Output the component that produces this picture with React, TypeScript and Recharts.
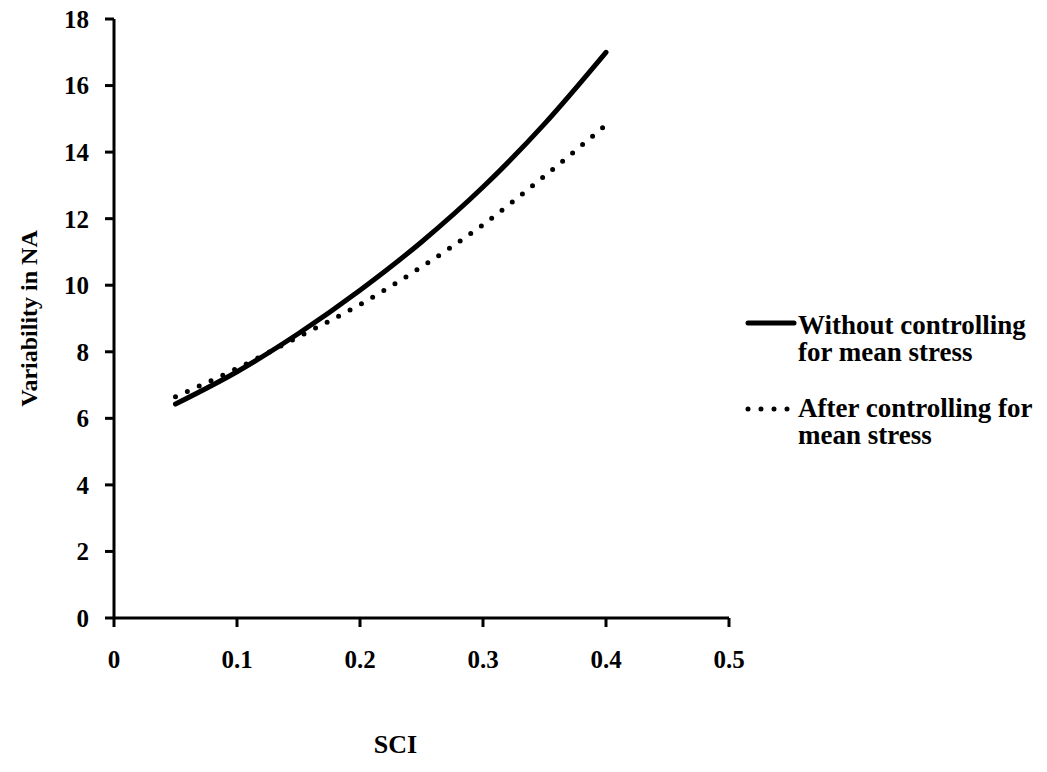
import { LineChart, Line, XAxis, YAxis, Legend, Label } from "recharts"

const sci = [0.05, 0.1, 0.15, 0.2, 0.25, 0.3, 0.35, 0.4]
const withoutControl = [6.43, 7.4, 8.55, 9.85, 11.3, 12.95, 14.85, 17.0]
const afterControl = [6.65, 7.5, 8.45, 9.42, 10.55, 11.82, 13.28, 14.82]
const xTicks = [0, 0.1, 0.2, 0.3, 0.4, 0.5]
const yTicks = [0, 2, 4, 6, 8, 10, 12, 14, 16, 18]

const seriesNames = ["Without controlling for mean stress", "After controlling for mean stress"]
const legendLines: Record<string, string[]> = {
  without: ["Without controlling", "for mean stress"],
  after: ["After controlling for", "mean stress"],
}
const legendOrder = ["without", "after"]

const data = sci.map((x, i) => ({
  sci: x,
  without: withoutControl[i],
  after: afterControl[i],
}))

const FONT = "'Liberation Serif', 'Times New Roman', serif"
const tickStyle = { fontFamily: FONT, fontWeight: 700, fontSize: 25, fill: "#000" }

function LegendBox({ payload }: any) {
  const items = legendOrder
    .map((k) => (payload || []).find((p: any) => p.dataKey === k))
    .filter(Boolean)
  return (
    <div style={{ fontFamily: FONT, fontWeight: 700, fontSize: 27, lineHeight: "27px", color: "#000" }}>
      {items.map((p: any, i: number) => (
        <div key={p.dataKey} style={{ display: "flex", alignItems: "flex-start", marginBottom: i === 0 ? 29 : 0 }}>
          <svg width={54} height={27} style={{ flex: "none" }}>
            <line
              x1={4}
              x2={50}
              y1={i === 0 ? 11 : 14}
              y2={i === 0 ? 11 : 14}
              stroke="#000"
              strokeWidth={5}
              strokeDasharray={p.dataKey === "after" ? "0 13" : undefined}
              strokeLinecap="round"
            />
          </svg>
          <div>
            {legendLines[p.dataKey].map((t) => (
              <div key={t}>{t}</div>
            ))}
          </div>
        </div>
      ))}
    </div>
  )
}

export default function App() {
  return (
    <div style={{ position: "absolute", left: 0, top: 0, width: 1047, height: 772, background: "#fff" }}>
      <LineChart width={1047} height={772} data={data} margin={{ top: 19, right: 318, left: 0, bottom: 0 }}>
        <XAxis
          dataKey="sci"
          type="number"
          domain={[0, 0.5]}
          ticks={xTicks}
          tick={tickStyle}
          tickSize={9}
          tickMargin={23}
          height={154}
          axisLine={{ stroke: "#000", strokeWidth: 3 }}
          tickLine={{ stroke: "#000", strokeWidth: 3 }}
        >
          <Label
            content={({ viewBox }: any) => (
              <text
                x={viewBox.x + viewBox.width / 2 - 26}
                y={viewBox.y + 135}
                textAnchor="middle"
                style={{ fontFamily: FONT, fontWeight: 700, fontSize: 26 }}
                fill="#000"
              >
                SCI
              </text>
            )}
          />
        </XAxis>
        <YAxis
          type="number"
          domain={[0, 18]}
          ticks={yTicks}
          tick={tickStyle}
          tickSize={9}
          tickMargin={16}
          width={114}
          axisLine={{ stroke: "#000", strokeWidth: 3 }}
          tickLine={{ stroke: "#000", strokeWidth: 3 }}
        >
          <Label
            content={({ viewBox }: any) => {
              const cx = 37
              const cy = viewBox.y + viewBox.height / 2
              return (
                <text
                  x={cx}
                  y={cy}
                  transform={`rotate(-90, ${cx}, ${cy})`}
                  textAnchor="middle"
                  style={{ fontFamily: FONT, fontWeight: 700, fontSize: 24 }}
                  fill="#000"
                >
                  Variability in NA
                </text>
              )
            }}
          />
        </YAxis>
        <Legend
          layout="vertical"
          align="center"
          verticalAlign="middle"
          content={<LegendBox />}
          wrapperStyle={{ left: 744, top: 312, width: 303 }}
        />
        <Line
          type="monotone"
          dataKey="without"
          name={seriesNames[0]}
          stroke="#000"
          strokeWidth={5}
          strokeLinecap="round"
          dot={false}
          isAnimationActive={false}
        />
        <Line
          type="monotone"
          dataKey="after"
          name={seriesNames[1]}
          stroke="#000"
          strokeWidth={5}
          strokeDasharray="0 13"
          strokeLinecap="round"
          dot={false}
          isAnimationActive={false}
        />
      </LineChart>
    </div>
  )
}
